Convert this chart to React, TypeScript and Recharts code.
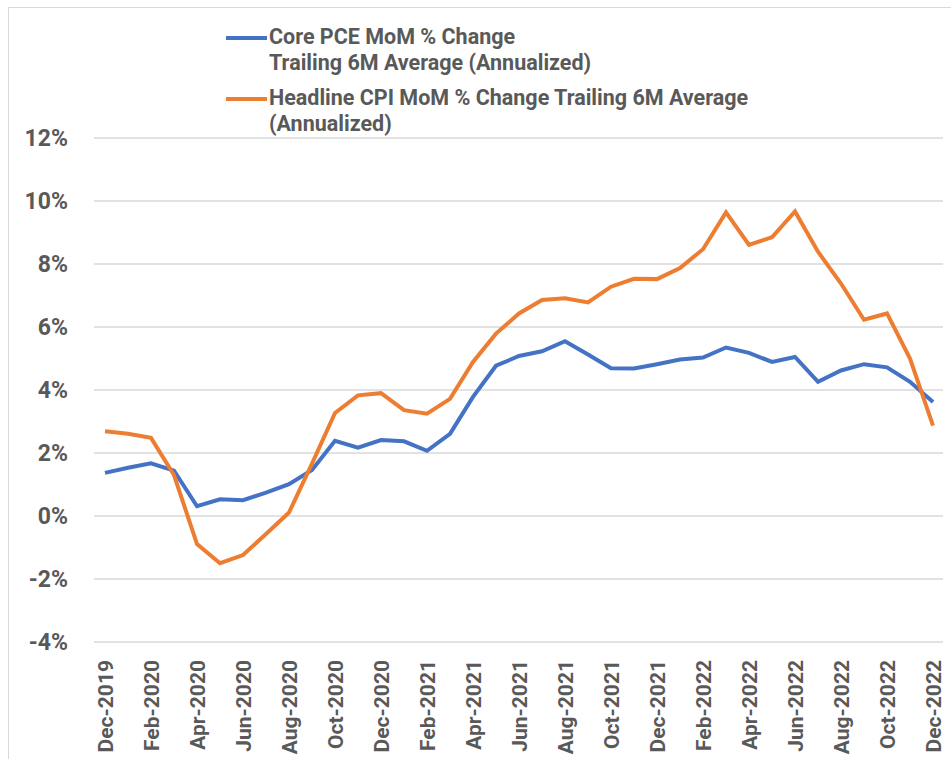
import React from 'react';
import { LineChart, Line, XAxis, YAxis, CartesianGrid } from 'recharts';

const months = [
  'Dec-2019', 'Jan-2020', 'Feb-2020', 'Mar-2020', 'Apr-2020', 'May-2020', 'Jun-2020',
  'Jul-2020', 'Aug-2020', 'Sep-2020', 'Oct-2020', 'Nov-2020', 'Dec-2020',
  'Jan-2021', 'Feb-2021', 'Mar-2021', 'Apr-2021', 'May-2021', 'Jun-2021',
  'Jul-2021', 'Aug-2021', 'Sep-2021', 'Oct-2021', 'Nov-2021', 'Dec-2021',
  'Jan-2022', 'Feb-2022', 'Mar-2022', 'Apr-2022', 'May-2022', 'Jun-2022',
  'Jul-2022', 'Aug-2022', 'Sep-2022', 'Oct-2022', 'Nov-2022', 'Dec-2022',
];

const corePce = [
  1.37, 1.53, 1.67, 1.44, 0.31, 0.53, 0.5, 0.74, 1.01, 1.46, 2.39, 2.17, 2.41,
  2.37, 2.07, 2.61, 3.78, 4.77, 5.08, 5.23, 5.55, 5.13, 4.69, 4.68, 4.82,
  4.97, 5.03, 5.35, 5.18, 4.89, 5.05, 4.26, 4.62, 4.82, 4.72, 4.26, 3.62,
];

const headlineCpi = [
  2.69, 2.61, 2.48, 1.3, -0.89, -1.5, -1.24, -0.57, 0.11, 1.66, 3.27, 3.83, 3.9,
  3.36, 3.25, 3.72, 4.89, 5.79, 6.43, 6.86, 6.91, 6.78, 7.28, 7.53, 7.52,
  7.87, 8.47, 9.64, 8.61, 8.85, 9.67, 8.39, 7.38, 6.23, 6.43, 5.0, 2.87,
];

const yTicks = [-4, -2, 0, 2, 4, 6, 8, 10, 12];

const legendItems = [
  { color: '#4472C4', lines: ['Core PCE MoM % Change', 'Trailing 6M Average (Annualized)'] },
  { color: '#ED7D31', lines: ['Headline CPI MoM % Change Trailing 6M Average', '(Annualized)'] },
];

const data = months.map((month, i) => ({
  month,
  corePce: corePce[i],
  headlineCpi: headlineCpi[i],
}));

const FONT = 'Roboto, "Liberation Sans", sans-serif';
const TEXT_GRAY = '#595959';

function MonthTick(props: any) {
  const { x, y, payload } = props;
  return (
    <text
      x={x}
      y={y}
      transform={`rotate(-90, ${x}, ${y})`}
      textAnchor="end"
      dy="0.36em"
      fill={TEXT_GRAY}
      fontFamily={FONT}
      fontWeight="bold"
      fontSize={21}
    >
      {payload.value}
    </text>
  );
}

function ChartLegend() {
  return (
    <div
      style={{
        position: 'absolute',
        left: 226,
        top: 24,
        fontFamily: FONT,
        fontWeight: 'bold',
        fontSize: 21.5,
        color: TEXT_GRAY,
        lineHeight: '26px',
      }}
    >
      {legendItems.map((item, i) => (
        <div key={i} style={{ display: 'flex', alignItems: 'flex-start', marginBottom: 9 }}>
          <div style={{ width: 41, height: 4, background: item.color, marginTop: 12, marginRight: 2 }} />
          <div>
            {item.lines.map((l, j) => (
              <div key={j}>{l}</div>
            ))}
          </div>
        </div>
      ))}
    </div>
  );
}

export default function App() {
  return (
    <div
      style={{
        position: 'absolute',
        left: 0,
        top: 0,
        width: 951,
        height: 759,
        overflow: 'hidden',
        background: '#fff',
      }}
    >
      <div
        style={{
          position: 'absolute',
          left: 8,
          top: 7,
          width: 1000,
          height: 800,
          border: '1px solid #d9d9d9',
        }}
      />
      <LineChart
        width={951}
        height={759}
        data={data}
        margin={{ top: 138, right: 8, bottom: 0, left: 0 }}
      >
        <CartesianGrid vertical={false} stroke="#d9d9d9" strokeWidth={1.5} />
        <XAxis
          dataKey="month"
          interval={1}
          height={117}
          tickLine={false}
          axisLine={false}
          padding={{ left: 11, right: 10 }}
          tick={<MonthTick />}
          tickMargin={12}
        />
        <YAxis
          width={94}
          domain={[-4, 12]}
          ticks={yTicks}
          tickFormatter={(v: number) => `${v}%`}
          tickLine={false}
          axisLine={false}
          tickMargin={20}
          tick={{ fill: TEXT_GRAY, fontFamily: FONT, fontWeight: 'bold', fontSize: 23 }}
        />
        <Line
          type="linear"
          dataKey="corePce"
          stroke="#4472C4"
          strokeWidth={4}
          dot={false}
          isAnimationActive={false}
        />
        <Line
          type="linear"
          dataKey="headlineCpi"
          stroke="#ED7D31"
          strokeWidth={4}
          dot={false}
          isAnimationActive={false}
        />
      </LineChart>
      <ChartLegend />
    </div>
  );
}
